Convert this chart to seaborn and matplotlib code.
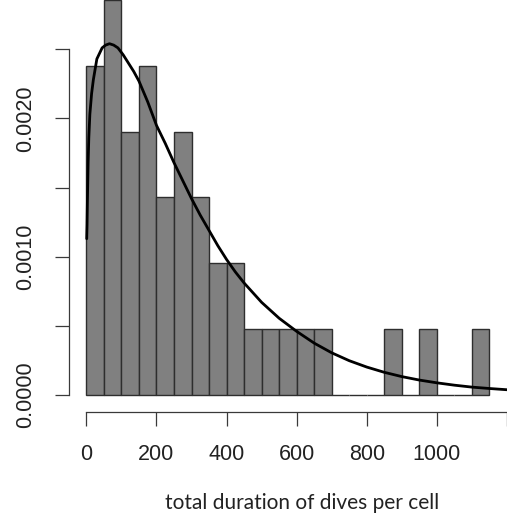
import matplotlib
matplotlib.use("Agg")
import matplotlib.pyplot as plt
import seaborn as sns
import numpy as np
import pandas as pd

# ---- data ----
bin_edges = [0, 50, 100, 150, 200, 250, 300, 350, 400, 450, 500, 550, 600,
             650, 700, 750, 800, 850, 900, 950, 1000, 1050, 1100, 1150]
bin_counts = [5, 6, 4, 5, 3, 4, 3, 2, 2, 1, 1, 1, 1, 1, 0, 0, 0, 1, 0, 1, 0, 0, 1]

curve_x = [1, 2, 3, 5, 7, 10, 15, 20, 30, 45, 55, 66, 78, 90, 105, 120, 135,
           150, 175, 200, 225, 250, 275, 300, 325, 350, 375, 400, 425, 450,
           475, 500, 550, 600, 650, 700, 750, 800, 850, 900, 950, 1000, 1050,
           1100, 1150, 1200]
curve_y = [0.00113, 0.00123, 0.00140, 0.00168, 0.00186, 0.00203, 0.00218,
           0.00228, 0.00243, 0.00251, 0.00253, 0.00254, 0.00253, 0.00251,
           0.00246, 0.00240, 0.00234, 0.00227, 0.00212, 0.00195, 0.00182,
           0.00168, 0.00155, 0.00142, 0.00130, 0.00119, 0.00108, 0.00098,
           0.00089, 0.00081, 0.00074, 0.00067, 0.000555, 0.00046, 0.000375,
           0.000305, 0.000248, 0.000202, 0.000164, 0.000133, 0.000108,
           0.000088, 0.000071, 0.000057, 0.000047, 0.000038]

x_ticks = [0, 200, 400, 600, 800, 1000, 1200]
x_ticklabels = ["0", "200", "400", "600", "800", "1000", ""]
y_ticks = [0.0, 0.0005, 0.0010, 0.0015, 0.0020, 0.0025]
y_ticklabels = ["0.0000", "", "0.0010", "", "0.0020", ""]
x_label = "total duration of dives per cell"

bin_mids = [(a + b) / 2 for a, b in zip(bin_edges[:-1], bin_edges[1:])]
hist_df = pd.DataFrame({"mid": bin_mids, "count": bin_counts})
curve_df = pd.DataFrame({"x": curve_x, "y": curve_y})

sns.set_style("ticks")
plt.rcParams["font.family"] = ["Liberation Sans", "DejaVu Sans"]

W, H = 507, 521
fig = plt.figure(figsize=(W / 100, H / 100), dpi=100)
ax_left_px, ax_bottom_px = 69, 411.7
ax = fig.add_axes([ax_left_px / W, (H - ax_bottom_px) / H,
                   (W - ax_left_px) / W, ax_bottom_px / H])

sns.histplot(data=hist_df, x="mid", weights="count", bins=bin_edges,
             stat="density", color="#808080", edgecolor="#2e2e2e",
             linewidth=1.0, alpha=1, ax=ax)
sns.lineplot(data=curve_df, x="x", y="y", color="black", linewidth=2.0,
             ax=ax, sort=False)

# data-space geometry matching the reference
px_per_x = 0.3535
x0_px = 86.5
ax.set_xlim((ax_left_px - x0_px) / px_per_x, (W - x0_px) / px_per_x)
px_per_y = 138300.0
y0_px = 395.0
ax.set_ylim((y0_px - ax_bottom_px) / px_per_y, y0_px / px_per_y)

for s in ["top", "right"]:
    ax.spines[s].set_visible(False)
ax.spines["left"].set_bounds(0, 0.0025)
ax.spines["bottom"].set_bounds(0, 1200)
for s in ["left", "bottom"]:
    ax.spines[s].set_color("#3a3a3a")
    ax.spines[s].set_linewidth(0.9)

ax.set_xticks(x_ticks)
ax.set_xticklabels(x_ticklabels)
ax.set_yticks(y_ticks)
ax.set_yticklabels(y_ticklabels, rotation=90, va="center")
ax.tick_params(axis="both", bottom=True, left=True, length=10, width=0.9,
               color="#3a3a3a", labelsize=15.5, labelcolor="#222222",
               direction="out")
ax.tick_params(axis="x", pad=13)
ax.tick_params(axis="y", pad=14)
ax.set_xlabel("")
ax.set_ylabel("")

fig.text(302.5 / W, 1 - 503 / H, x_label, ha="center", va="center",
         fontsize=15, family=["Lato", "DejaVu Sans"], color="#222222")

fig.savefig("out.png", dpi=100)
